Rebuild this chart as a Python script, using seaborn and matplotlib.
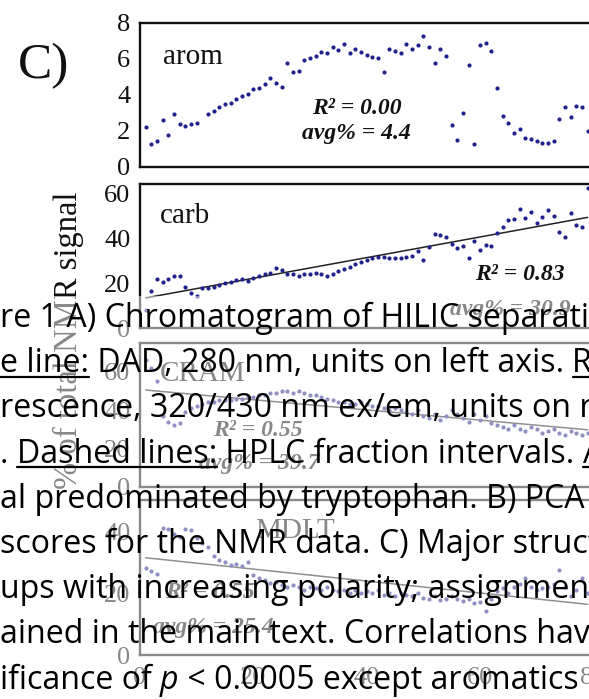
import numpy as np
import pandas as pd
import matplotlib
matplotlib.use("Agg")
import matplotlib.pyplot as plt
from matplotlib.lines import Line2D
from matplotlib.patches import Rectangle
import seaborn as sns

# ---------------- data ----------------
fraction = list(range(1, 80))

arom = [2.20, 1.26, 1.44, 2.59, 1.76, 2.93, 2.37, 2.26, 2.37, 2.44,
        np.nan, 2.93, 3.10, 3.30, 3.48, 3.56, 3.74, 3.94, 4.02, 4.30,
        4.35, 4.59, 4.91, 4.63, 4.41, 5.74, 5.28, 5.33, 5.93, 6.02,
        6.15, 6.39, 6.30, 6.67, 6.48, 6.82, 6.33, 6.52, 6.39, 6.20,
        6.07, 6.02, 5.28, 6.52, 6.44, 6.33, 6.80, 6.52, 6.76, 7.26,
        6.67, 5.78, 6.52, 6.15, 2.32, 1.48, 2.96, 5.65, 1.26, 6.76,
        6.89, 6.44, 4.35, 2.82, 2.41, 1.89, 2.11, 1.58, 1.52, 1.44,
        1.33, 1.33, 1.44, 2.63, 3.30, 2.78, 3.37, 3.30, 1.98]

carb = [8.1, 16.7, 21.8, 20.7, 21.8, 23.2, 23.2, 18.2, 15.6, 14.4,
        17.8, 17.8, 18.5, 19.2, 20.0, 20.7, 21.5, 21.8, 21.2, 22.2,
        23.2, 24.1, 24.4, 26.7, 25.9, 24.1, 24.1, 23.2, 24.1, 24.1,
        24.4, 24.1, 23.2, 24.1, 25.2, 26.2, 27.1, 28.6, 29.2, 30.1,
        31.1, 31.6, 31.6, 31.1, 31.1, 31.1, 31.6, 32.1, 34.5, 30.4,
        36.0, 41.9, 41.3, 40.4, 37.5, 35.5, 36.6, 31.1, 38.9, 34.8,
        36.9, 36.6, 42.2, 44.9, 48.1, 48.4, 52.9, 48.9, 51.4, 46.9,
        49.3, 52.6, 49.6, 42.5, 40.4, 51.1, 45.9, 44.9, 62.2]

cram = [66, 62, 55, 37, 34, 32, 33, 39, 41, 42,
        43, 44, 44, 45, 45, 45, 46, 46, 47, 47,
        48, 48, 49, 49, 50, 50, 49, 50, 49, 48,
        48, 47, 46, 45, 44, 44, 43, 43, 44, 43,
        42, 42, 41, 40, 41, 40, 39, 38, 40, 37,
        36, 38, 35, 37, 40, 38, 36, 34, 38, 35,
        37, 33, 32, 31, 30, 32, 30, 29, 31, 30,
        28, 29, 30, 28, 27, 29, 28, 27, 28]

mdlt = [28.0, 27.0, 26.0, 41.0, 40.6, 39.0, 38.0, 40.6, 40.2, 37.7,
        36.0, 35.0, 32.0, 30.7, 30.0, 29.0, 29.5, 28.6, 30.0, 25.9,
        24.8, 24.3, 23.2, 23.4, 22.7, 22.0, 22.5, 22.0, 21.0, 22.0,
        21.5, 21.0, 22.0, 21.0, 20.5, 21.0, 20.0, 21.0, 20.0, 20.5,
        20.0, 21.0, 19.5, 20.0, 19.0, 20.0, 19.5, 19.0, 20.0, 18.5,
        18.0, 19.0, 17.6, 18.0, 19.0, 18.0, 17.5, 18.0, 16.8, 17.0,
        14.2, 18.0, 20.7, 21.5, 20.0, 22.0, 23.0, 24.8, 22.0, 21.1,
        21.5, 22.0, 23.0, 27.5, 22.0, 19.0, 21.0, 24.8, 20.0]

panel_names = ["arom", "carb", "CRAM", "MDLT"]
panel_values = [arom, carb, cram, mdlt]
r2_text = ["R² = 0.00", "R² = 0.83", "R² = 0.55", "R² = 0.55"]
avg_text = ["avg% = 4.4", "avg% = 30.9", "avg% = 39.7", "avg% = 25.4"]
show_fit = [False, True, True, True]
ytick_major = [[0, 2, 4, 6, 8], [0, 20, 40, 60], [0, 20, 40, 60], [0, 20, 40]]
ytick_minor = [[], [10, 30, 50], [10, 30, 50], [10, 30]]
xtick_major = [0, 10, 20, 30, 40, 50, 60, 70, 80]
xtick_labels = ["0", "", "20", "", "40", "", "60", "", "80"]
y_axis_title = "% of total NMR signal"
panel_tag = "C)"

caption_lines = [
    [("re 1 A) Chromatogram of HILIC separation", False)],
    [("e line:", True), (" DAD, 280 nm, units on left axis. ", False), ("Red line:", True)],
    [("rescence, 320/430 nm ex/em, units on right axis", False)],
    [(". ", False), ("Dashed lines:", True), (" HPLC fraction intervals. ", False), ("Arom", True)],
    [("al predominated by tryptophan. B) PCA", False)],
    [("scores for the NMR data. C) Major structural", False)],
    [("ups with increasing polarity; assignments", False)],
    [("ained in the main text. Correlations have", False)],
    [("ificance of ", False), ("p", "italic"), (" < 0.0005 except aromatics", False)],
]

# ---------------- layout (pixels) ----------------
W, H, DPI = 589, 699, 100
fig = plt.figure(figsize=(W / DPI, H / DPI), dpi=DPI)
sns.set_style("white")
plt.rcParams["font.family"] = ["Liberation Serif", "DejaVu Serif"]

def fx(x):
    return x / W

def fy(y):
    return 1 - y / H

LEFT, RIGHT = 140, 640
PX_PER_X = 5.667
panels_px = [(22.7, 166.7, 8.0), (184.0, 328.3, 64.0), (343.0, 486.7, 75.0), (500.0, 655.0, 50.0)]
label_pos = [(163, 57), (160, 216), (160, 374), (255, 531)]
r2_pos = [(357, 108), (520, 274), (258, 430), (210, 592)]
avg_pos = [(356, 133), (510, 310), (259, 463), (213, 628)]
dot_color = "#22228c"

for i, (top, bot, ymax) in enumerate(panels_px):
    ax = fig.add_axes([fx(LEFT), fy(bot), (RIGHT - LEFT) / W, (bot - top) / H])
    df = pd.DataFrame({"fraction": fraction, "pct": panel_values[i]})
    sns.scatterplot(data=df, x="fraction", y="pct", ax=ax, color=dot_color,
                    s=9, linewidth=0, legend=False, zorder=3)
    if show_fit[i]:
        sns.regplot(data=df, x="fraction", y="pct", ax=ax, scatter=False, ci=None,
                    line_kws=dict(color="#222222", lw=1.1, zorder=2))
    ax.set_xlim(0, (RIGHT - LEFT) / PX_PER_X)
    ax.set_ylim(0, ymax)
    ax.set_xlabel("")
    ax.set_ylabel("")
    for sp in ax.spines.values():
        sp.set_visible(True)
        sp.set_color("#111111")
        sp.set_linewidth(1.7)
    ax.set_yticks(ytick_major[i])
    ax.set_yticks(ytick_minor[i], minor=True)
    ax.tick_params(axis="y", which="both", direction="out", length=6, width=1.3,
                   labelsize=19, pad=1, color="#111111", labelcolor="#111111")
    if i == len(panels_px) - 1:
        ax.set_xticks(xtick_major)
        ax.set_xticklabels(xtick_labels)
        ax.tick_params(axis="x", direction="out", length=5, width=1.3,
                       labelsize=19, pad=4, color="#111111", labelcolor="#111111")
    else:
        ax.set_xticks([])
    fig.text(fx(label_pos[i][0]), fy(label_pos[i][1]), panel_names[i], fontsize=21,
             ha="left", va="center", color="#111111")
    fig.text(fx(r2_pos[i][0]), fy(r2_pos[i][1]), r2_text[i], fontsize=17,
             ha="center", va="center", color="#111111", fontweight="bold", fontstyle="italic")
    fig.text(fx(avg_pos[i][0]), fy(avg_pos[i][1]), avg_text[i], fontsize=17,
             ha="center", va="center", color="#111111", fontweight="bold", fontstyle="italic")

fig.text(fx(44), fy(66), panel_tag, fontsize=37, ha="center", va="center", color="#111111")
fig.text(fx(68), fy(340), y_axis_title, fontsize=23.5, rotation=90, ha="center", va="center",
         color="#111111")

# translucent white veil under the caption
fig.add_artist(Rectangle((0, 0), 1, fy(296), transform=fig.transFigure, facecolor="white",
                         alpha=0.5, edgecolor="none", zorder=5))

# ---------------- caption ----------------
CAP_SIZE = 23.1
CAP_FONT = "Open Sans"
renderer = fig.canvas.get_renderer()

def advance(s, style="normal"):
    t1 = fig.text(0, 0, s + "|", fontsize=CAP_SIZE, family=CAP_FONT, fontstyle=style)
    t2 = fig.text(0, 0, "|", fontsize=CAP_SIZE, family=CAP_FONT, fontstyle=style)
    w = t1.get_window_extent(renderer).width - t2.get_window_extent(renderer).width
    t1.remove()
    t2.remove()
    return w

BASE0, STEP = 327.0, 45.2
for k, segs in enumerate(caption_lines):
    base = BASE0 + STEP * k
    x = 0.0
    for text, flag in segs:
        style = "italic" if flag == "italic" else "normal"
        fig.text(fx(x), fy(base), text, fontsize=CAP_SIZE, family=CAP_FONT, fontstyle=style,
                 ha="left", va="baseline", color="black", zorder=10)
        w = advance(text, style)
        if flag is True:
            fig.add_artist(Line2D([fx(x), fx(x + w)], [fy(base + 4.5), fy(base + 4.5)],
                                  transform=fig.transFigure, color="black", lw=1.6, zorder=10))
        x += w

fig.savefig("out.png", dpi=DPI)
